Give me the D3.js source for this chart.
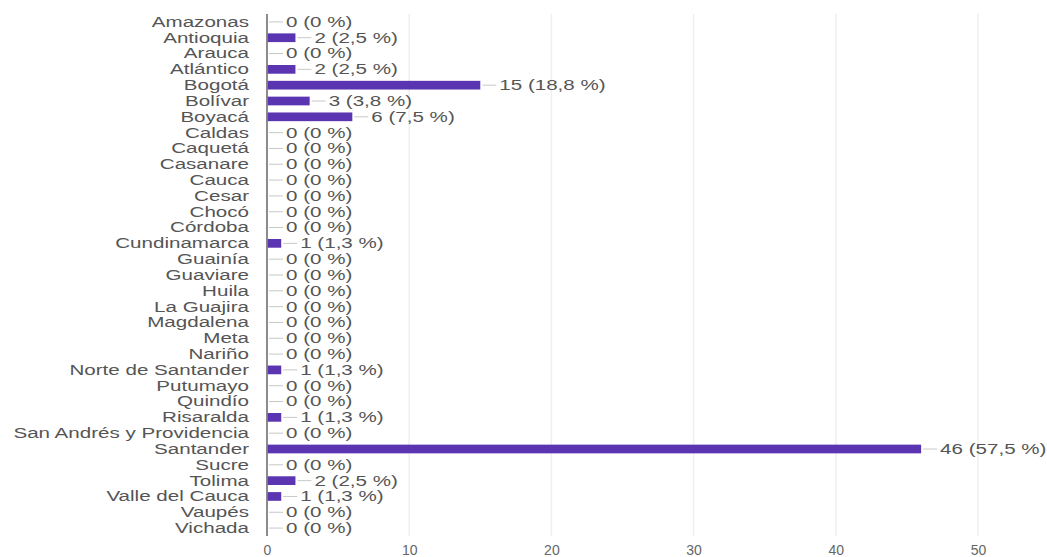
<!DOCTYPE html>
<html>
<head>
<meta charset="utf-8">
<script src="https://cdn.jsdelivr.net/npm/d3@7"></script>
<style>
  html, body { margin: 0; padding: 0; background: #fff; }
  svg { display: block; font-family: "Liberation Sans", Arial, sans-serif; }
</style>
</head>
<body>
<svg id="chart" width="1047" height="557"></svg>
<script>
// Departments (Colombia) and response counts
const departments = [
  "Amazonas", "Antioquia", "Arauca", "Atlántico", "Bogotá", "Bolívar", "Boyacá",
  "Caldas", "Caquetá", "Casanare", "Cauca", "Cesar", "Chocó", "Córdoba",
  "Cundinamarca", "Guainía", "Guaviare", "Huila", "La Guajira", "Magdalena",
  "Meta", "Nariño", "Norte de Santander", "Putumayo", "Quindío", "Risaralda",
  "San Andrés y Providencia", "Santander", "Sucre", "Tolima", "Valle del Cauca",
  "Vaupés", "Vichada"
];
const counts = [
  0, 2, 0, 2, 15, 3, 6,
  0, 0, 0, 0, 0, 0, 0,
  1, 0, 0, 0, 0, 0,
  0, 0, 1, 0, 0, 1,
  0, 46, 0, 2, 1,
  0, 0
];
const percents = [
  "0", "2,5", "0", "2,5", "18,8", "3,8", "7,5",
  "0", "0", "0", "0", "0", "0", "0",
  "1,3", "0", "0", "0", "0", "0",
  "0", "0", "1,3", "0", "0", "1,3",
  "0", "57,5", "0", "2,5", "1,3",
  "0", "0"
];
const xTicks = [0, 10, 20, 30, 40, 50];

const svg = d3.select("#chart");
const plotLeft = 267, plotRight = 978, plotTop = 14, plotBottom = 536;
const stretch = 1.47;

const x = d3.scaleLinear().domain([0, 50]).range([plotLeft, plotRight]);
const y = d3.scaleBand().domain(departments).range([plotTop, plotBottom])
  .paddingInner(0.45).paddingOuter(0.225);

const rows = departments.map((d, i) => ({ name: d, value: counts[i], pct: percents[i] }));

// vertical gridlines
svg.append("g").selectAll("line")
  .data(xTicks.filter(t => t > 0))
  .join("line")
  .attr("x1", d => x(d)).attr("x2", d => x(d))
  .attr("y1", plotTop).attr("y2", plotBottom)
  .attr("stroke", "#efefef").attr("stroke-width", 1.5);

// bars
svg.append("g").selectAll("rect")
  .data(rows.filter(r => r.value > 0))
  .join("rect")
  .attr("x", x(0))
  .attr("y", d => y(d.name))
  .attr("width", d => x(d.value) - x(0))
  .attr("height", y.bandwidth())
  .attr("fill", "#5b35b1");

// baseline
svg.append("line")
  .attr("x1", x(0)).attr("x2", x(0))
  .attr("y1", plotTop).attr("y2", plotBottom)
  .attr("stroke", "#7f7f7f").attr("stroke-width", 1.8);

// category labels
const catG = svg.append("g").selectAll("g")
  .data(rows).join("g")
  .attr("transform", d => `translate(249,${y(d.name) + y.bandwidth() / 2})`);
catG.append("text")
  .attr("transform", `scale(${stretch},1)`)
  .attr("text-anchor", "end")
  .attr("dy", "0.35em")
  .attr("font-size", 14)
  .attr("fill", "#555")
  .text(d => d.name);

// value annotations with leader lines
const ann = svg.append("g").selectAll("g")
  .data(rows).join("g")
  .attr("transform", d => `translate(${x(d.value)},${y(d.name) + y.bandwidth() / 2})`);
ann.append("line")
  .attr("x1", 2).attr("x2", 16)
  .attr("stroke", "#c8c8c8").attr("stroke-width", 1);
ann.append("text")
  .attr("transform", `scale(${stretch},1)`)
  .attr("x", 19 / stretch)
  .attr("dy", "0.35em")
  .attr("font-size", 14)
  .attr("fill", "#555")
  .text(d => `${d.value} (${d.pct} %)`);

// x axis tick labels
const xAxis = d3.axisBottom(x).tickValues(xTicks).tickSize(0).tickPadding(0);
const axG = svg.append("g")
  .attr("transform", `translate(0,${plotBottom + 9})`)
  .call(xAxis);
axG.select(".domain").remove();
axG.selectAll("text")
  .attr("font-size", 14)
  .attr("font-family", "'Liberation Sans', Arial, sans-serif")
  .attr("fill", "#666");
</script>
</body>
</html>
